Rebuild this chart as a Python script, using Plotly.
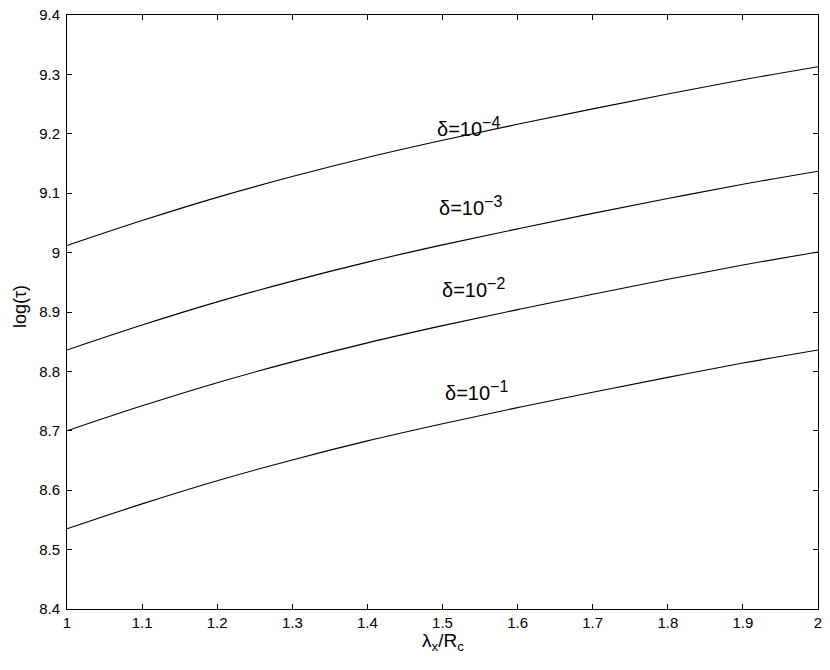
import plotly.graph_objects as go

x_vals = [1.0, 1.1, 1.2, 1.3, 1.4, 1.5, 1.6, 1.7, 1.8, 1.9, 2.0]
y_d4 = [9.012, 9.054, 9.093, 9.128, 9.160, 9.189, 9.216, 9.242, 9.267, 9.291, 9.313]
y_d3 = [8.836, 8.878, 8.917, 8.952, 8.984, 9.013, 9.040, 9.066, 9.091, 9.115, 9.137]
y_d2 = [8.700, 8.742, 8.781, 8.816, 8.848, 8.877, 8.904, 8.930, 8.955, 8.979, 9.001]
y_d1 = [8.535, 8.577, 8.616, 8.651, 8.683, 8.712, 8.739, 8.765, 8.790, 8.814, 8.836]

exponents = ["−4", "−3", "−2", "−1"]
label_x = [1.490, 1.493, 1.497, 1.500]
label_y = [9.212, 9.079, 8.941, 8.767]

x_ticks = [1, 1.1, 1.2, 1.3, 1.4, 1.5, 1.6, 1.7, 1.8, 1.9, 2]
x_ticktext = ["1", "1.1", "1.2", "1.3", "1.4", "1.5", "1.6", "1.7", "1.8", "1.9", "2"]
y_ticks = [8.4, 8.5, 8.6, 8.7, 8.8, 8.9, 9.0, 9.1, 9.2, 9.3, 9.4]
y_ticktext = ["8.4", "8.5", "8.6", "8.7", "8.8", "8.9", "9", "9.1", "9.2", "9.3", "9.4"]

FONT = "Liberation Sans, Arial, Helvetica, sans-serif"

fig = go.Figure()
for ys in [y_d4, y_d3, y_d2, y_d1]:
    fig.add_trace(go.Scatter(x=x_vals, y=ys, mode="lines",
                             line=dict(color="black", width=1.1, shape="spline"),
                             showlegend=False, hoverinfo="skip"))

for lx, ly, ex in zip(label_x, label_y, exponents):
    txt = "δ=10<sup><span style='font-size:16px'>" + ex + "</span></sup>"
    fig.add_annotation(x=lx, y=ly, text=txt, showarrow=False,
                       xanchor="left", yanchor="middle",
                       font=dict(family=FONT, size=20, color="black"))

# axis titles as annotations for exact placement
fig.add_annotation(xref="paper", yref="paper", x=0.5, y=-0.056,
                   text="λ<sub>x</sub>/R<sub>c</sub>", showarrow=False,
                   xanchor="center", yanchor="middle", borderpad=0,
                   font=dict(family=FONT, size=19, color="black"))
fig.add_annotation(xref="paper", yref="paper", x=-0.0626, y=0.51,
                   text="log(τ)", showarrow=False, textangle=-90,
                   xanchor="center", yanchor="middle", borderpad=0,
                   font=dict(family=FONT, size=18, color="black"))

axis_common = dict(showline=True, linecolor="black", linewidth=1, mirror="ticks",
                   ticks="inside", ticklen=5, tickcolor="black", showgrid=False,
                   zeroline=False, automargin=False, ticklabeloverflow="allow",
                   tickfont=dict(family=FONT, size=15, color="black"))

fig.update_xaxes(range=[1, 2], tickvals=x_ticks, ticktext=x_ticktext, **axis_common)
fig.update_yaxes(range=[8.4, 9.4], tickvals=y_ticks, ticktext=y_ticktext,
                 ticklabelstandoff=3, **axis_common)

# page body has an 8px margin, so the figure is sized to fill the 830x670 window from (8,8)
fig.update_layout(width=822, height=662, autosize=False,
                  margin=dict(l=59, r=12, t=7, b=61, pad=0),
                  paper_bgcolor="white", plot_bgcolor="white",
                  font=dict(family=FONT, color="black"))

fig.write_html("out.html")
